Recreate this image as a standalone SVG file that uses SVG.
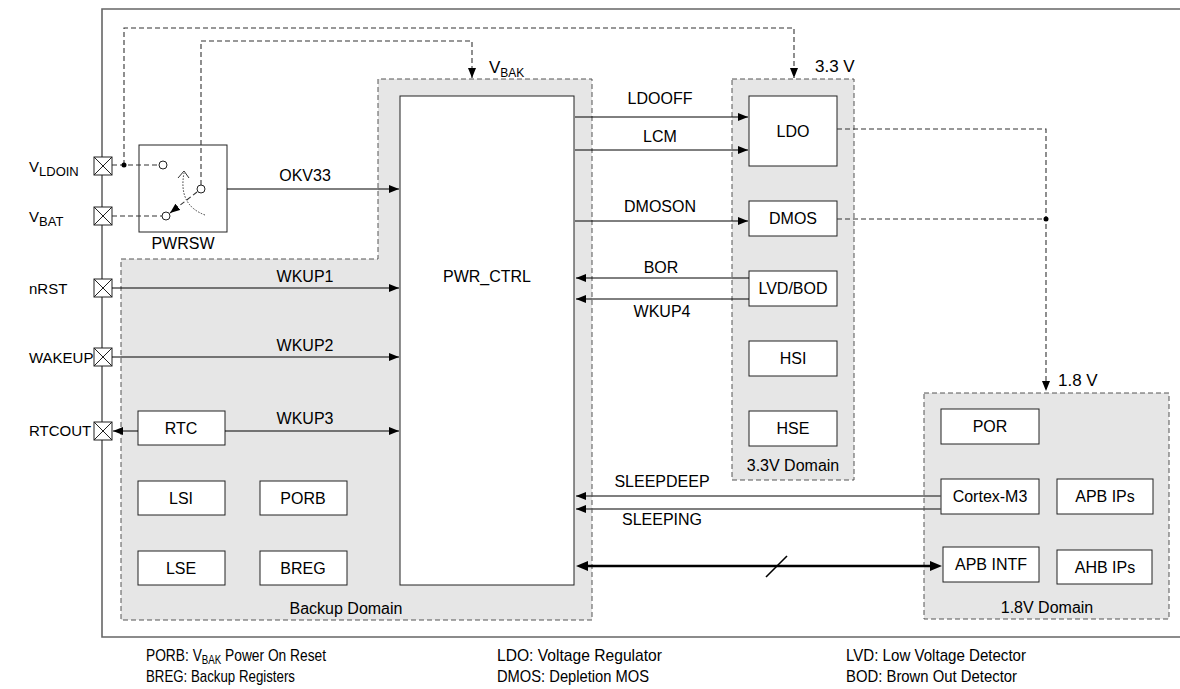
<svg xmlns="http://www.w3.org/2000/svg" width="1180" height="689" viewBox="0 0 1180 689">
<style>
text{font-family:"Liberation Sans",Arial,sans-serif;font-size:16px;fill:#000}
.c{text-anchor:middle}
.sub{font-size:12px}
.lbl{font-size:15px}
.lsub{font-size:13px}
.big{font-size:17px}
.foot{font-family:"Liberation Sans Narrow","Liberation Sans",Arial,sans-serif;font-size:17px}
.box{fill:#fff;stroke:#222;stroke-width:1}
.dom{fill:#e6e6e6;stroke:#555;stroke-width:1;stroke-dasharray:5,3}
.dl{fill:none;stroke:#333;stroke-width:1.1;stroke-dasharray:5,3}
.ln{fill:none;stroke:#000;stroke-width:1}
.gl{fill:none;stroke:#555;stroke-width:1.4}
.pin{fill:#fff;stroke:#222;stroke-width:1}
</style>
<defs>
<marker id="ah" viewBox="0 0 10 8" refX="10" refY="4" markerWidth="10" markerHeight="8" markerUnits="userSpaceOnUse" orient="auto-start-reverse"><path d="M0,0L10,4L0,8Z" fill="#000"/></marker>
<g id="pinx"><rect class="pin" x="0" y="0" width="18" height="18"/><path d="M0,0L18,18M18,0L0,18" stroke="#222" stroke-width="1"/></g>
</defs>
<rect width="1180" height="689" fill="#fff"/>
<path d="M1181,9H102V637H1181" fill="none" stroke="#666" stroke-width="1.6"/>

<g id="backup-domain">
<path class="dom" d="M121,259H378V79H592V620H121Z"/>
<text class="c" x="346" y="614">Backup Domain</text>
</g>
<g id="domain-33">
<rect class="dom" x="732" y="79" width="122" height="401"/>
<text class="c" x="793" y="471">3.3V Domain</text>
<text class="big" x="815" y="72">3.3 V</text>
</g>
<g id="domain-18">
<rect class="dom" x="924" y="393" width="245" height="226"/>
<text class="c" x="1047" y="613">1.8V Domain</text>
<text class="big" x="1058" y="386">1.8 V</text>
</g>
<g id="vbak-label"><text class="big" x="489" y="73">V<tspan class="sub" dy="4">BAK</tspan></text></g>

<g id="pwr_ctrl"><rect class="box" x="400" y="96" width="174" height="489"/><text class="c" x="487" y="282">PWR_CTRL</text></g>
<g id="pwrsw"><rect class="box" x="139" y="145" width="88" height="87"/><text class="c" x="183" y="249">PWRSW</text></g>
<g id="rtc"><rect class="box" x="138" y="411" width="87" height="34"/><text class="c" x="181" y="434">RTC</text></g>
<g id="lsi"><rect class="box" x="138" y="481" width="87" height="34"/><text class="c" x="181" y="504">LSI</text></g>
<g id="porb"><rect class="box" x="260" y="481" width="87" height="34"/><text class="c" x="303" y="504">PORB</text></g>
<g id="lse"><rect class="box" x="138" y="551" width="87" height="34"/><text class="c" x="181" y="574">LSE</text></g>
<g id="breg"><rect class="box" x="260" y="551" width="87" height="34"/><text class="c" x="303" y="574">BREG</text></g>

<g id="ldo"><rect class="box" x="749" y="96" width="88" height="70"/><text class="c" x="793" y="137">LDO</text></g>
<g id="dmos"><rect class="box" x="749" y="201" width="88" height="35"/><text class="c" x="793" y="224">DMOS</text></g>
<g id="lvdbod"><rect class="box" x="749" y="271" width="88" height="35"/><text class="c" x="793" y="294">LVD/BOD</text></g>
<g id="hsi"><rect class="box" x="749" y="341" width="88" height="35"/><text class="c" x="793" y="364">HSI</text></g>
<g id="hse"><rect class="box" x="749" y="411" width="88" height="35"/><text class="c" x="793" y="434">HSE</text></g>

<g id="por"><rect class="box" x="941" y="409" width="98" height="35"/><text class="c" x="990" y="432">POR</text></g>
<g id="cortex"><rect class="box" x="941" y="479" width="98" height="35"/><text class="c" x="990" y="502">Cortex-M3</text></g>
<g id="apbips"><rect class="box" x="1057" y="479" width="96" height="35"/><text class="c" x="1105" y="502">APB IPs</text></g>
<g id="apbintf"><rect class="box" x="943" y="547" width="96" height="35"/><text class="c" x="991" y="570">APB INTF</text></g>
<g id="ahbips"><rect class="box" x="1057" y="550" width="95" height="34"/><text class="c" x="1105" y="573">AHB IPs</text></g>

<g id="pins">
<use href="#pinx" x="94" y="157"/>
<use href="#pinx" x="94" y="207"/>
<use href="#pinx" x="94" y="279"/>
<use href="#pinx" x="94" y="348"/>
<use href="#pinx" x="94" y="422"/>
<text class="lbl" x="29" y="172">V<tspan class="lsub" dy="4">LDOIN</tspan></text>
<text class="lbl" x="29" y="222">V<tspan class="lsub" dy="4">BAT</tspan></text>
<text class="lbl" x="29" y="294">nRST</text>
<text class="lbl" x="29" y="363">WAKEUP</text>
<text class="lbl" x="29" y="436">RTCOUT</text>
</g>

<g id="connectors">
<path class="dl" d="M124,165V28H794V78" marker-end="url(#ah)"/>
<path class="dl" d="M201,185V41H472V78" marker-end="url(#ah)"/>
<path class="dl" d="M112,165H159"/>
<path class="dl" d="M112,216H162"/>
<circle cx="124" cy="165" r="2.5" fill="#000"/>
<circle cx="163" cy="165" r="4" fill="#fff" stroke="#222"/>
<circle cx="201" cy="189" r="4" fill="#fff" stroke="#222"/>
<circle cx="166" cy="216" r="4" fill="#fff" stroke="#222"/>
<path class="dl" d="M197,192L170,213" marker-end="url(#ah)"/>
<path d="M205,215Q178,205 184,173" fill="none" stroke="#333" stroke-width="1" stroke-dasharray="1.5,1.5"/>
<path d="M178,178L184,171L189,178" fill="none" stroke="#333" stroke-width="1"/>

<path class="ln" d="M227,189H399" marker-end="url(#ah)"/>
<text class="c" x="305" y="181">OKV33</text>
<path class="ln" d="M112,288H399" marker-end="url(#ah)"/>
<text class="c" x="305" y="282">WKUP1</text>
<path class="ln" d="M112,357H399" marker-end="url(#ah)"/>
<text class="c" x="305" y="351">WKUP2</text>
<path class="ln" d="M225,431H399" marker-end="url(#ah)"/>
<text class="c" x="305" y="424">WKUP3</text>
<path class="ln" d="M138,431H113" marker-end="url(#ah)"/>

<path class="ln" d="M575,117H748" marker-end="url(#ah)"/>
<text class="c" x="660" y="104">LDOOFF</text>
<path class="ln" d="M575,150H748" marker-end="url(#ah)"/>
<text class="c" x="660" y="142">LCM</text>
<path class="ln" d="M575,221H748" marker-end="url(#ah)"/>
<text class="c" x="660" y="212">DMOSON</text>
<path class="ln" d="M749,278H576" marker-end="url(#ah)"/>
<text class="c" x="661" y="273">BOR</text>
<path class="ln" d="M749,299H576" marker-end="url(#ah)"/>
<text class="c" x="662" y="317">WKUP4</text>

<path class="gl" d="M941,496H576" marker-end="url(#ah)"/>
<text class="c" x="662" y="487">SLEEPDEEP</text>
<path class="gl" d="M941,509H576" marker-end="url(#ah)"/>
<text class="c" x="662" y="525">SLEEPING</text>
<path d="M588,566H930" fill="none" stroke="#000" stroke-width="2.5"/>
<path d="M576,566L588,561L588,571Z M942,566L930,561L930,571Z" fill="#000"/>
<path d="M766,577L787,556" stroke="#000" stroke-width="1.6"/>

<path class="dl" d="M837,129H1046V391" marker-end="url(#ah)"/>
<path class="dl" d="M837,219H1046"/>
<circle cx="1046" cy="219" r="2.5" fill="#000"/>
</g>

<g id="legend">
<text class="foot" transform="translate(146,661) scale(0.81,1)" x="0" y="0">PORB: V<tspan class="sub" dy="3">BAK</tspan><tspan dy="-3"> Power On Reset</tspan></text>
<text class="foot" x="146" y="682" textLength="149" lengthAdjust="spacingAndGlyphs">BREG: Backup Registers</text>
<text class="foot" x="497" y="661" textLength="165" lengthAdjust="spacingAndGlyphs">LDO: Voltage Regulator</text>
<text class="foot" x="497" y="682" textLength="152" lengthAdjust="spacingAndGlyphs">DMOS: Depletion MOS</text>
<text class="foot" x="846" y="661" textLength="180" lengthAdjust="spacingAndGlyphs">LVD: Low Voltage Detector</text>
<text class="foot" x="846" y="682" textLength="171" lengthAdjust="spacingAndGlyphs">BOD: Brown Out Detector</text>
</g>
</svg>
